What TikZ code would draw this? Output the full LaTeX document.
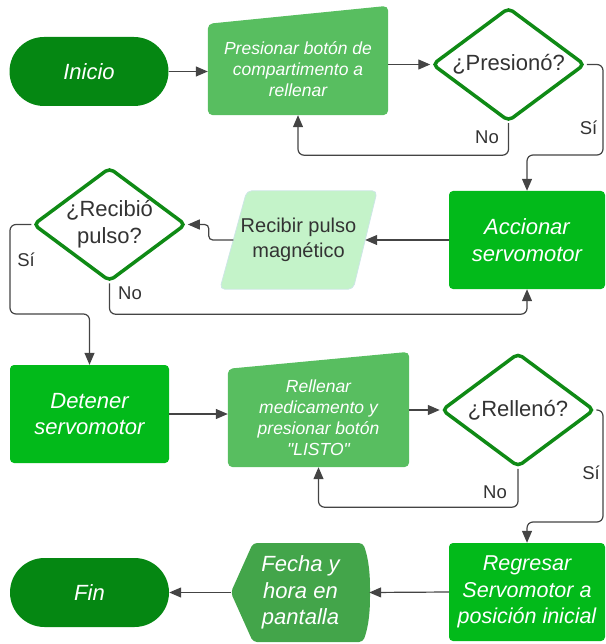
\documentclass[tikz,border=0pt]{standalone}
\usepackage{fontspec}
\setmainfont{Liberation Sans}[Ligatures=TeXOff]
\usetikzlibrary{shapes.geometric,arrows.meta,backgrounds}
\definecolor{termcol}{HTML}{058712}
\definecolor{mancol}{HTML}{58BE60}
\definecolor{proccol}{HTML}{02BA1A}
\definecolor{iocol}{HTML}{C4F3C9}
\definecolor{iobord}{HTML}{CDE6E6}
\definecolor{dispcol}{HTML}{43A54A}
\definecolor{decbord}{HTML}{0F8A15}
\definecolor{linecol}{HTML}{444444}
\definecolor{txtcol}{HTML}{333333}
\begin{document}
\begin{tikzpicture}[x=1pt,y=-1pt,
  wtext/.style={text=white, align=center, font=\fontsize{22}{26.5}\selectfont\itshape},
  stext/.style={text=white, align=center, font=\fontsize{17.5}{21}\selectfont\itshape},
  term/.style={wtext, fill=termcol, minimum width=159pt, minimum height=69pt, rounded corners=34.5pt, inner sep=0pt},
  proc/.style={wtext, fill=proccol, minimum width=156pt, minimum height=98pt, rounded corners=4pt, inner sep=0pt},
  decision/.style={diamond, draw=decbord, line width=3.5pt, fill=white, rounded corners=5pt, text=txtcol, align=center, font=\fontsize{22}{27}\selectfont, minimum width=153pt, minimum height=114pt, aspect=1.34, inner sep=0pt},
  conn/.style={draw=linecol, line width=1.2pt, rounded corners=6pt, -{Triangle[length=12pt,width=10pt]}},
  lbl/.style={text=txtcol, font=\fontsize{18.5}{22}\selectfont, inner sep=0pt},
]
\useasboundingbox (0,0) rectangle (605,644);

% Row 1
\node[term] (ini) at (89,71.5) {Inicio};
\node[stext, minimum width=180pt, minimum height=91pt, inner sep=0pt] (b1) at (298,69.5) {Presionar botón de\\compartimento a\\rellenar};
\node[decision] (d1) at (508.5,64.5) {¿Presionó?};

% Row 2
\node[proc] (acc) at (527,240) {Accionar\\servomotor};
\node[inner sep=0pt, minimum width=157pt, minimum height=98pt, text=txtcol, align=center, font=\fontsize{20}{25}\selectfont] (recv) at (298.5,240) {Recibir pulso\\magnético};
\node[decision] (d2) at (109.5,224.5) {¿Recibió\\pulso?};

% Row 3
\node[proc, minimum width=159pt] (det) at (89.5,414) {Detener\\servomotor};
\node[stext, minimum width=181pt, minimum height=98pt, inner sep=0pt] (rell) at (318.5,418) {Rellenar\\medicamento y\\presionar botón\\"LISTO"};
\node[decision] (d3) at (518,410) {¿Rellenó?};

% Row 4
\node[proc, font=\fontsize{21.5}{26.5}\selectfont\itshape] (reg) at (527,592) {Regresar\\Servomotor a\\posición inicial};
\node[wtext, minimum width=139pt, minimum height=99pt, inner sep=0pt] (fecha) at (300.5,592.5) {Fecha y\\hora en\\pantalla};
\node[term] (fin) at (89.5,592.5) {Fin};

% background shapes
\begin{scope}[on background layer]
  \fill[mancol, rounded corners=5pt] (b1.south west) -- (b1.north west) -- ([yshift=18pt]b1.north east) -- (b1.south east) -- cycle;
  \fill[mancol, rounded corners=5pt] (rell.south west) -- (rell.north west) -- ([yshift=17pt]rell.north east) -- (rell.south east) -- cycle;
  \filldraw[fill=iocol, draw=iobord, line width=0.8pt, rounded corners=5pt] ([xshift=27pt]recv.north west) -- (recv.north east) -- ([xshift=-24pt]recv.south east) -- (recv.south west) -- cycle;
  \fill[dispcol, rounded corners=4pt] (fecha.west) -- (253,543) -- (363,543) .. controls (369,560) and (370,575) .. (370,592.5) .. controls (370,610) and (369,625) .. (363,642) -- (253,642) -- cycle;
\end{scope}

% waypoints
\coordinate (r1) at (603,155);
\coordinate (l2) at (10,314);
\coordinate (r3) at (603,522);

% connectors
\draw[conn] (ini.east) -- (ini.east -| b1.west);
\draw[conn] (b1.east |- d1.west) -- (d1.west);
\draw[conn] (d1.south) |- ([yshift=-40pt]b1.south) -- (b1.south);
\draw[conn] (d1.east) -| (r1) -| (acc.north);
\draw[conn] (acc.west) -- ([xshift=-12pt]recv.east);
\draw[conn, rounded corners=4pt] ([xshift=13.5pt]recv.west) -| ([xshift=21pt]d2.east) -- (d2.east);
\draw[conn] (d2.south) |- ([yshift=-25pt]acc.south) -- (acc.south);
\draw[conn] (d2.west) -| (l2) -| (det.north);
\draw[conn] (det.east) -- (det.east -| rell.west);
\draw[conn] (rell.east |- d3.west) -- (d3.west);
\draw[conn] (d3.south) |- ([yshift=-40pt]rell.south) -- (rell.south);
\draw[conn] (d3.east) -| (r3) -| (reg.north);
\draw[conn] (reg.west) -- ([xshift=-1pt]fecha.east);
\draw[conn] (fecha.west) -- (fin.east);

% labels
\node[lbl, anchor=east] (no1) at (499,137) {No};
\node[lbl] (si1) at (588.5,128) {Sí};
\node[lbl] (si2) at (26,260) {Sí};
\node[lbl, anchor=west] (no2) at (118,293) {No};
\node[lbl] (no3) at (495,492) {No};
\node[lbl] (si3) at (591,473) {Sí};
\end{tikzpicture}
\end{document}
